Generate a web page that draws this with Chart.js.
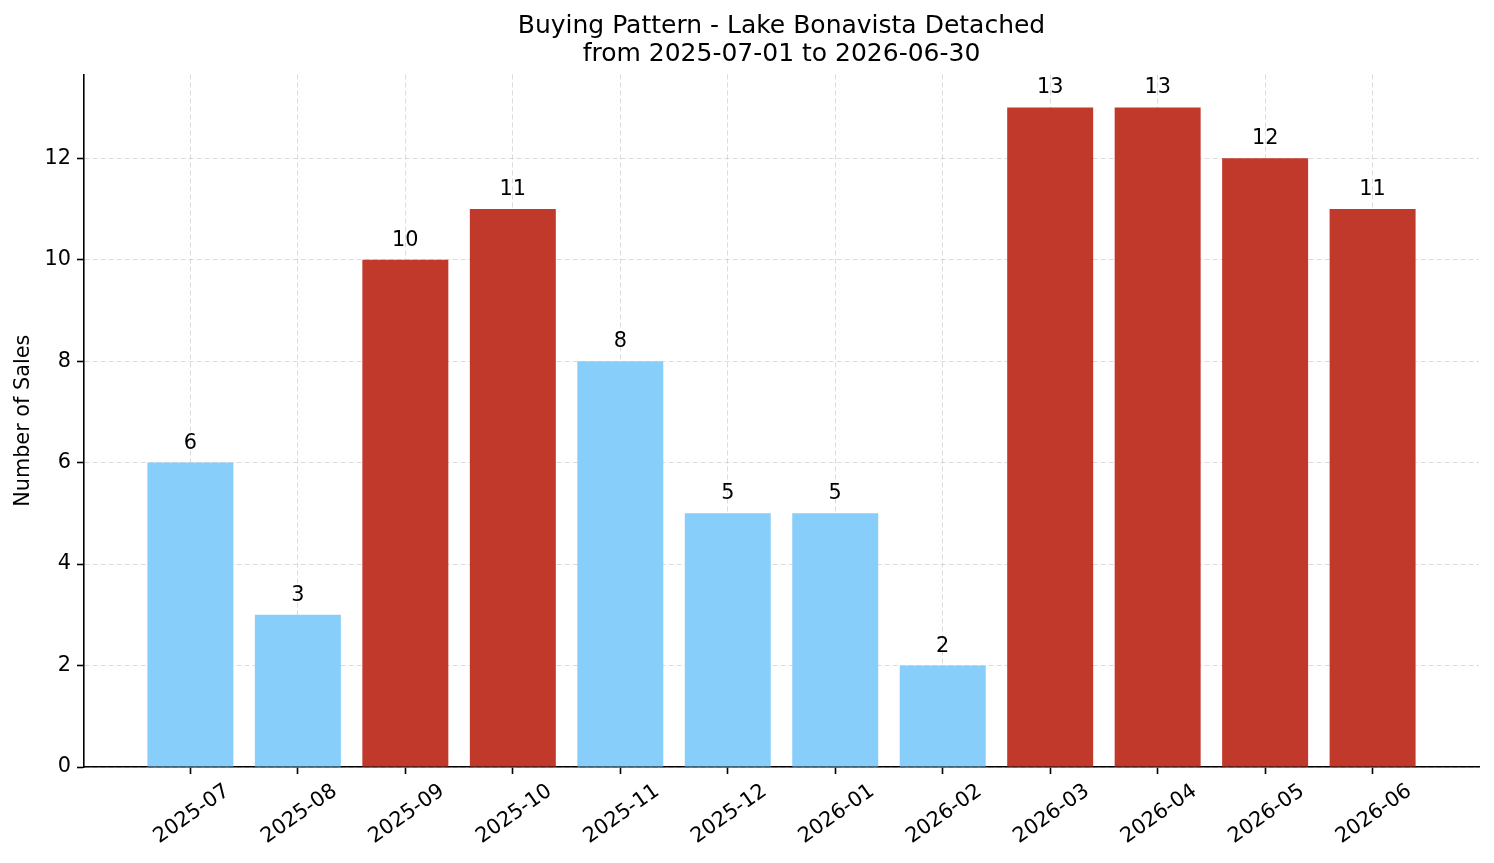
<!DOCTYPE html>
<html>
<head>
<meta charset="utf-8">
<script src="https://cdn.jsdelivr.net/npm/chart.js@4.4.1/dist/chart.umd.min.js"></script>
<style>
  html, body { margin: 0; padding: 0; background: #fff; }
  #wrap { width: 1494px; height: 863px; position: relative; }
</style>
</head>
<body>
<div id="wrap"><canvas id="chart"></canvas></div>
<script>
// Chart data
const titleLines = ['Buying Pattern - Lake Bonavista Detached', 'from 2025-07-01 to 2026-06-30'];
const months = ['2025-07', '2025-08', '2025-09', '2025-10', '2025-11', '2025-12',
                '2026-01', '2026-02', '2026-03', '2026-04', '2026-05', '2026-06'];
const sales = [6, 3, 10, 11, 8, 5, 5, 2, 13, 13, 12, 11];
const yTicks = [0, 2, 4, 6, 8, 10, 12];
const yLabel = 'Number of Sales';

// Axis limits (matplotlib style margins)
const Y_MAX = 13.65;
const X_MIN = -0.99;
const X_MAX = 11.99;

const FONT = "'DejaVu Sans', sans-serif";
const HIGH = '#c0392b';
const LOW = '#87cefa';

// bars above the median get the strong colour
const sorted = [...sales].sort((a, b) => a - b);
const median = (sorted[5] + sorted[6]) / 2;

// Title drawn over the plot area centre
const titlePlugin = {
    id: 'plotTitle',
    afterDraw(chart) {
        const { ctx, chartArea } = chart;
        const cx = (chartArea.left + chartArea.right) / 2;
        ctx.save();
        ctx.fillStyle = '#000';
        ctx.font = `25px ${FONT}`;
        ctx.textAlign = 'center';
        ctx.textBaseline = 'middle';
        ctx.fillText(titleLines[0], cx, 26);
        ctx.fillText(titleLines[1], cx, 54);
        ctx.restore();
    }
};

// Value labels above bars
const valueLabels = {
    id: 'valueLabels',
    afterDraw(chart) {
        const { ctx } = chart;
        const meta = chart.getDatasetMeta(0);
        ctx.save();
        ctx.fillStyle = '#000';
        ctx.font = `20.8px ${FONT}`;
        ctx.textAlign = 'center';
        ctx.textBaseline = 'bottom';
        meta.data.forEach((bar, i) => {
            ctx.fillText(String(sales[i]), bar.x, bar.y - 9);
        });
        ctx.restore();
    }
};

const gridColor = 'rgba(190, 190, 190, 0.55)';

const chart = new Chart(document.getElementById('chart'), {
    type: 'bar',
    data: {
        datasets: [{
            data: sales.map((v, i) => ({ x: i, y: v })),
            backgroundColor: ctx => (ctx.raw && ctx.raw.y > median ? HIGH : LOW),
            borderWidth: 0,
            barPercentage: 0.8,
            categoryPercentage: 1.0
        }]
    },
    options: {
        responsive: true,
        maintainAspectRatio: false,
        animation: false,
        layout: { padding: { top: 74.5, right: 15, left: 0, bottom: 0 } },
        plugins: {
            legend: { display: false },
            tooltip: { enabled: false },
            title: { display: false }
        },
        scales: {
            x: {
                type: 'linear',
                offset: false,
                z: 1,
                min: X_MIN,
                max: X_MAX,
                afterBuildTicks: scale => {
                    scale.ticks = months.map((_, i) => ({ value: i }));
                },
                afterFit: scale => { scale.height = 96; },
                ticks: {
                    autoSkip: false,
                    minRotation: 35,
                    maxRotation: 35,
                    padding: 5,
                    labelOffset: 37,
                    color: '#000',
                    font: { family: FONT, size: 20.8 },
                    callback: v => months[v] ?? ''
                },
                grid: {
                    offset: false,
                    color: gridColor,
                    lineWidth: 1,
                    tickColor: '#000',
                    tickLength: 7,
                    tickWidth: 1.6
                },
                border: { display: true, color: '#000', width: 1.6, dash: [5, 3] }
            },
            y: {
                z: 1,
                min: 0,
                max: Y_MAX,
                afterBuildTicks: scale => {
                    scale.ticks = yTicks.map(v => ({ value: v }));
                },
                afterFit: scale => { scale.width = 84; },
                title: {
                    display: true,
                    text: yLabel,
                    color: '#000',
                    font: { family: FONT, size: 20.8 },
                    padding: { top: 11, bottom: 0 }
                },
                ticks: {
                    padding: 6,
                    color: '#000',
                    font: { family: FONT, size: 20.8 }
                },
                grid: {
                    color: gridColor,
                    lineWidth: 1,
                    tickColor: '#000',
                    tickLength: 7,
                    tickWidth: 1.6
                },
                border: { display: true, color: '#000', width: 1.6, dash: [5, 3] }
            }
        }
    },
    plugins: [titlePlugin, valueLabels]
});
</script>
</body>
</html>
